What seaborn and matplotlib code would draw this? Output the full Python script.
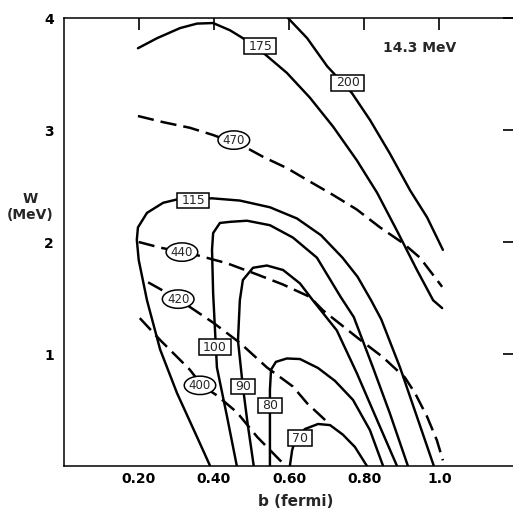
import matplotlib
matplotlib.use("Agg")
import matplotlib.pyplot as plt
import seaborn as sns

# solid contours (boxed labels)
b_200 = [0.597, 0.648, 0.701, 0.767, 0.815, 0.868, 0.922, 0.967, 1.009]
w_200 = [4.0, 3.82, 3.57, 3.33, 3.09, 2.79, 2.46, 2.22, 1.93]

b_175 = [0.198, 0.249, 0.31, 0.355, 0.398, 0.443, 0.477, 0.531, 0.594, 0.655, 0.717,
         0.78, 0.834, 0.887, 0.94, 0.983, 1.007]
w_175 = [3.73, 3.82, 3.91, 3.95, 3.955, 3.89, 3.82, 3.69, 3.51, 3.29, 3.03,
         2.73, 2.44, 2.10, 1.75, 1.48, 1.41]

b_115 = [0.39, 0.355, 0.302, 0.257, 0.222, 0.20, 0.195, 0.198, 0.222, 0.265, 0.302,
         0.395, 0.469, 0.549, 0.621, 0.685, 0.742, 0.782, 0.818, 0.845, 0.895, 0.94, 0.985]
w_115 = [0.0, 0.26, 0.65, 1.04, 1.48, 1.84, 2.02, 2.13, 2.26, 2.35, 2.38,
         2.39, 2.37, 2.31, 2.21, 2.06, 1.86, 1.69, 1.48, 1.31, 0.88, 0.44, 0.0]

b_100 = [0.461, 0.435, 0.408, 0.398, 0.395, 0.398, 0.416, 0.443, 0.488, 0.549, 0.61,
         0.674, 0.737, 0.772, 0.823, 0.868, 0.916]
w_100 = [0.0, 0.44, 0.88, 1.54, 1.93, 2.08, 2.17, 2.18, 2.19, 2.15, 2.04,
         1.86, 1.51, 1.33, 0.88, 0.47, 0.0]

b_90 = [0.506, 0.49, 0.477, 0.464, 0.469, 0.477, 0.504, 0.541, 0.584, 0.629, 0.663,
        0.727, 0.78, 0.834, 0.887]
w_90 = [0.0, 0.37, 0.71, 1.12, 1.48, 1.66, 1.77, 1.79, 1.75, 1.63, 1.48,
        1.21, 0.83, 0.41, 0.0]

b_80 = [0.549, 0.549, 0.549, 0.552, 0.565, 0.594, 0.629, 0.677, 0.722, 0.77, 0.815, 0.85]
w_80 = [0.0, 0.41, 0.68, 0.86, 0.93, 0.96, 0.955, 0.875, 0.76, 0.59, 0.32, 0.0]

b_70 = [0.602, 0.608, 0.616, 0.642, 0.677, 0.709, 0.743, 0.775, 0.807]
w_70 = [0.0, 0.14, 0.23, 0.33, 0.375, 0.365, 0.28, 0.17, 0.0]

# dashed contours (oval labels)
b_470 = [0.198, 0.265, 0.336, 0.398, 0.482, 0.531, 0.594, 0.655, 0.717, 0.78, 0.842,
         0.903, 0.948, 1.007]
w_470 = [3.125, 3.07, 3.02, 2.955, 2.85, 2.76, 2.66, 2.54, 2.42, 2.29, 2.13,
         1.99, 1.86, 1.60]

b_440 = [0.20, 0.257, 0.315, 0.358, 0.435, 0.515, 0.584, 0.655, 0.69, 0.78, 0.85, 0.908,
         0.935, 0.967, 0.993, 1.009]
w_440 = [2.0, 1.95, 1.91, 1.88, 1.81, 1.71, 1.62, 1.51, 1.39, 1.15, 0.97, 0.79,
         0.65, 0.44, 0.23, 0.05]

b_420 = [0.225, 0.305, 0.398, 0.469, 0.541, 0.61, 0.648, 0.696]
w_420 = [1.64, 1.49, 1.28, 1.10, 0.88, 0.71, 0.56, 0.41]

b_400 = [0.203, 0.257, 0.336, 0.368, 0.408, 0.461, 0.515, 0.576, 0.594]
w_400 = [1.32, 1.125, 0.86, 0.72, 0.63, 0.48, 0.26, 0.05, 0.0]

# label names and spots
solid_names = ["200", "175", "115", "100", "90", "80", "70"]
solid_lab_b = [0.756, 0.523, 0.345, 0.403, 0.477, 0.549, 0.629]
solid_lab_w = [3.42, 3.75, 2.37, 1.06, 0.71, 0.54, 0.25]

dash_names = ["470", "440", "420", "400"]
dash_lab_b = [0.453, 0.315, 0.305, 0.363]
dash_lab_w = [2.91, 1.91, 1.49, 0.72]

xtick_vals = [0.2, 0.4, 0.6, 0.8, 1.0]
xtick_text = ["0.20", "0.40", "0.60", "0.80", "1.0"]
ytick_vals = [1, 2, 3, 4]

sns.set_style("white")
plt.rcParams['font.family'] = ['DejaVu Sans']

fig = plt.figure(figsize=(5.13, 5.08), dpi=100)
ax = fig.add_axes([63.5/513, 42/508, 451.2/513, 448/508])

solid = [(b_200, w_200), (b_175, w_175), (b_115, w_115), (b_100, w_100),
         (b_90, w_90), (b_80, w_80), (b_70, w_70)]
dashed = [(b_470, w_470), (b_440, w_440), (b_420, w_420), (b_400, w_400)]

for bx, wy in solid:
    sns.lineplot(x=bx, y=wy, sort=False, estimator=None, color="black",
                 lw=1.75, ax=ax)
for bx, wy in dashed:
    sns.lineplot(x=bx, y=wy, sort=False, estimator=None, color="black",
                 lw=1.8, ax=ax, linestyle=(0, (6.5, 2.8)))

for name, bx, wy in zip(solid_names, solid_lab_b, solid_lab_w):
    ax.text(bx, wy, name, ha="center", va="center", fontsize=9, zorder=5,
            bbox=dict(boxstyle="square,pad=0.35", mutation_aspect=0.3,
                      fc="white", ec="black", lw=1.1))
for name, bx, wy in zip(dash_names, dash_lab_b, dash_lab_w):
    ax.text(bx, wy, name, ha="center", va="center", fontsize=8.5, zorder=5,
            bbox=dict(boxstyle="ellipse,pad=0.0", fc="white", ec="black", lw=1.1))

ax.text(0.948, 3.73, "14.3 MeV", ha="center", va="center", fontsize=10,
        fontweight="bold")

ax.set_xlim(0, 1.2)
ax.set_ylim(0, 4)
ax.set_xticks(xtick_vals)
ax.set_xticklabels(xtick_text)
ax.set_yticks(ytick_vals)
ax.tick_params(direction="in", top=True, right=True, length=8.5, width=1.2,
               labelsize=10, colors="black")
ax.tick_params(axis="y", pad=7)
ax.tick_params(axis="x", pad=4)
for lab in ax.get_xticklabels() + ax.get_yticklabels():
    lab.set_fontweight("bold")
for sp in ax.spines.values():
    sp.set_color("black")
    sp.set_linewidth(1.1)

ax.set_xlabel("b (fermi)", fontsize=11, fontweight="bold")
ax.xaxis.set_label_coords(0.515, -0.08)
ax.xaxis.label.set_va("center")
ax.set_ylabel("W\n(MeV)", fontsize=10, fontweight="bold", rotation=0,
              ha="center", va="center")
ax.yaxis.set_label_coords(-0.074, 0.578)

fig.savefig("out.png", dpi=100)
